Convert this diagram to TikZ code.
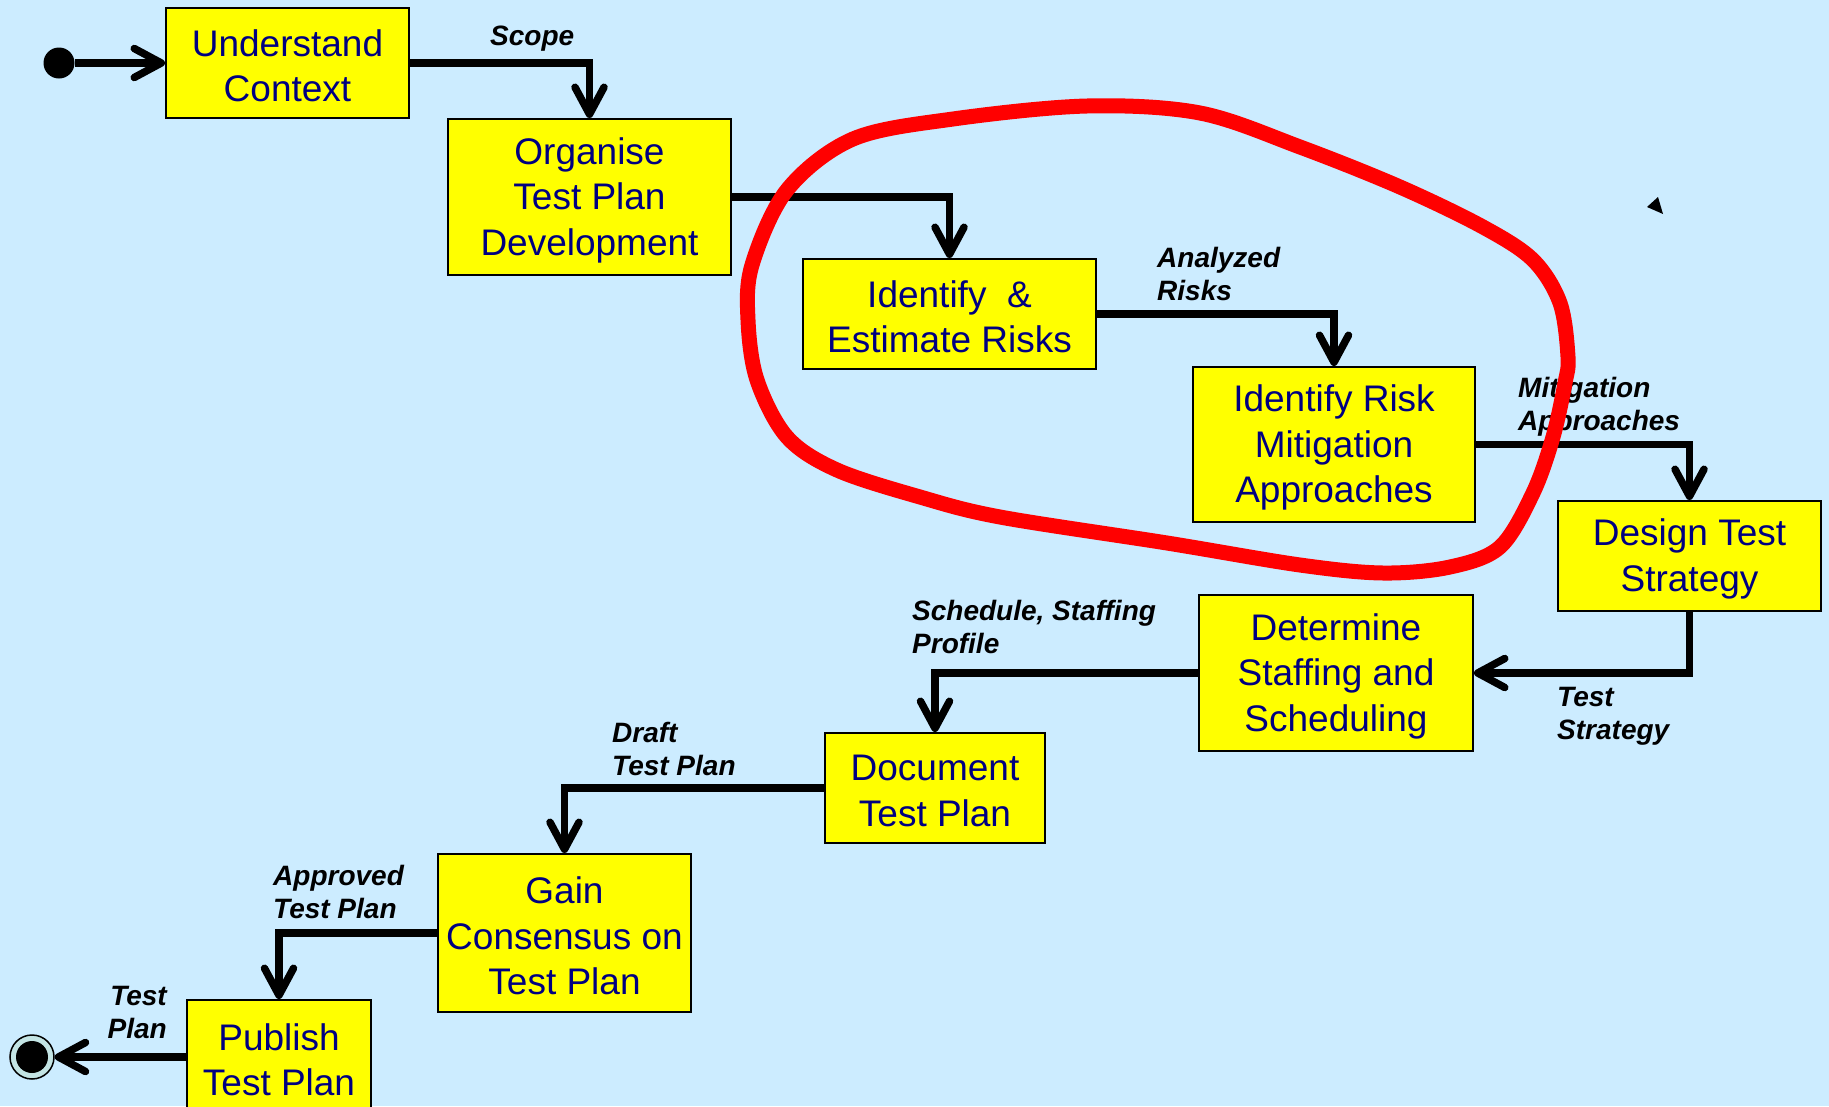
\documentclass[tikz,border=0pt]{standalone}
\usepackage{fontspec}
\setmainfont{Liberation Sans}
\usetikzlibrary{arrows.meta}
\definecolor{bgblue}{RGB}{204,236,255}
\definecolor{boxyellow}{RGB}{255,255,0}
\definecolor{navytext}{RGB}{0,0,128}
\definecolor{ringfill}{RGB}{195,228,228}
\definecolor{markred}{RGB}{255,0,0}
\begin{document}
\begin{tikzpicture}[x=1pt,y=-1pt,
  stepbox/.style={draw=black, line width=2pt, fill=boxyellow, text=navytext,
    align=center, inner sep=0pt, font=\fontsize{37}{45.5}\selectfont},
  flow/.style={line width=7.5pt, -{Straight Barb[length=27pt,width=29pt,round]}},
  flowlabel/.style={font=\fontsize{28}{33}\selectfont\bfseries\itshape,
    inner sep=0pt, align=left, anchor=west},
  boxtext/.style={yshift=-3pt},
]
\useasboundingbox (0,0) rectangle (1829,1106);
\fill[bgblue] (0,0) rectangle (1829,1106);
\begin{scope}
\clip (0,0) rectangle (1829,1106);

% activity boxes (the frame is drawn by the node, the text is lowered a little)
\node[stepbox, minimum width=243pt, minimum height=110pt] (uc)   at (287.5,63)  {};
\node[stepbox, minimum width=283pt, minimum height=156pt] (org)  at (589.5,197) {};
\node[stepbox, minimum width=293pt, minimum height=110pt] (ier)  at (949.5,314) {};
\node[stepbox, minimum width=282pt, minimum height=155pt] (irm)  at (1334,444.5) {};
\node[stepbox, minimum width=263pt, minimum height=110pt] (dts)  at (1689.5,556) {};
\node[stepbox, minimum width=274pt, minimum height=156pt] (dss)  at (1336,673)  {};
\node[stepbox, minimum width=220pt, minimum height=110pt] (doc)  at (935,788)   {};
\node[stepbox, minimum width=253pt, minimum height=158pt] (gain) at (564.5,933) {};
\node[stepbox, minimum width=184pt, minimum height=114pt] (pub)  at (279,1057)  {};

\node[stepbox, draw=none, fill=none, boxtext] (tuc)   at (uc)   {Understand\\Context};
\node[stepbox, draw=none, fill=none, boxtext] (torg)  at (org)  {Organise\\Test Plan\\Development};
\node[stepbox, draw=none, fill=none, boxtext] (tier)  at (ier)  {Identify\ \ \&\\Estimate Risks};
\node[stepbox, draw=none, fill=none, boxtext] (tirm)  at (irm)  {Identify Risk\\Mitigation\\Approaches};
\node[stepbox, draw=none, fill=none, boxtext] (tdts)  at (dts)  {Design Test\\Strategy};
\node[stepbox, draw=none, fill=none, boxtext] (tdss)  at (dss)  {Determine\\Staffing and\\Scheduling};
\node[stepbox, draw=none, fill=none, boxtext] (tdoc)  at (doc)  {Document\\Test Plan};
\node[stepbox, draw=none, fill=none, boxtext] (tgain) at (gain) {Gain\\Consensus on\\Test Plan};
\node[stepbox, draw=none, fill=none, boxtext] (tpub)  at (pub)  {Publish\\Test Plan};

% initial and final states
\node[circle, fill=black, minimum size=31pt, inner sep=0pt] (start) at (59,63) {};
\node[circle, draw=black, line width=1.5pt, fill=ringfill, minimum size=44pt, inner sep=0pt] (end) at (32,1057) {};
\fill[black] (end.center) circle (16pt);

% flows between activities
\draw[flow] (start) -- (uc.west);
\draw[flow] (uc.east) -| (org.north);
\draw[flow] (org.east) -| (ier.north);
\draw[flow] (ier.east) -| (irm.north);
\draw[flow] (irm.east) -| (dts.north);
\draw[flow] (dts.south) |- (dss.east);
\draw[flow] (dss.west) -| (doc.north);
\draw[flow] (doc.west) -| (gain.north);
\draw[flow] (gain.west) -| (pub.north);
\draw[flow] (pub.west) -- (end);

% flow labels
\node[flowlabel] (lscope) at (490,38.5) {Scope};
\node[flowlabel] (lrisks) at (1157,274) {Analyzed\\Risks};
\node[flowlabel] (lmit)   at (1518,406.5) {Mitigation\\Approaches};
\node[flowlabel] (lstrat) at (1557,716.5) {Test\\Strategy};
\node[flowlabel] (lsched) at (912,626.5) {Schedule, Staffing\\Profile};
\node[flowlabel] (ldraft) at (612,748.5) {Draft\\Test Plan};
\node[flowlabel] (lappr)  at (273,892) {Approved\\Test Plan};
\node[flowlabel, anchor=east, align=right] (lplan) at (167,1012) {Test\\Plan};

% stray arrowhead mark
\fill[black] (1658,197) -- (1647,207) -- (1663,214) -- cycle;

% hand-drawn highlight around the risk activities
\draw[markred, line width=15pt, line cap=round, line join=round]
  plot[smooth cycle, tension=0.55] coordinates {
    (1087,106) (1200,113) (1300,147) (1400,187) (1483,227) (1533,260)
    (1560,303) (1568,357) (1565,383) (1553,437) (1533,493) (1500,547)
    (1450,567) (1383,573) (1300,565) (1167,543) (1000,517) (920,497)
    (837,470) (787,437) (757,380) (748,320) (752,265) (787,190)
    (853,139) (953,119)};
\end{scope}
\end{tikzpicture}
\end{document}
